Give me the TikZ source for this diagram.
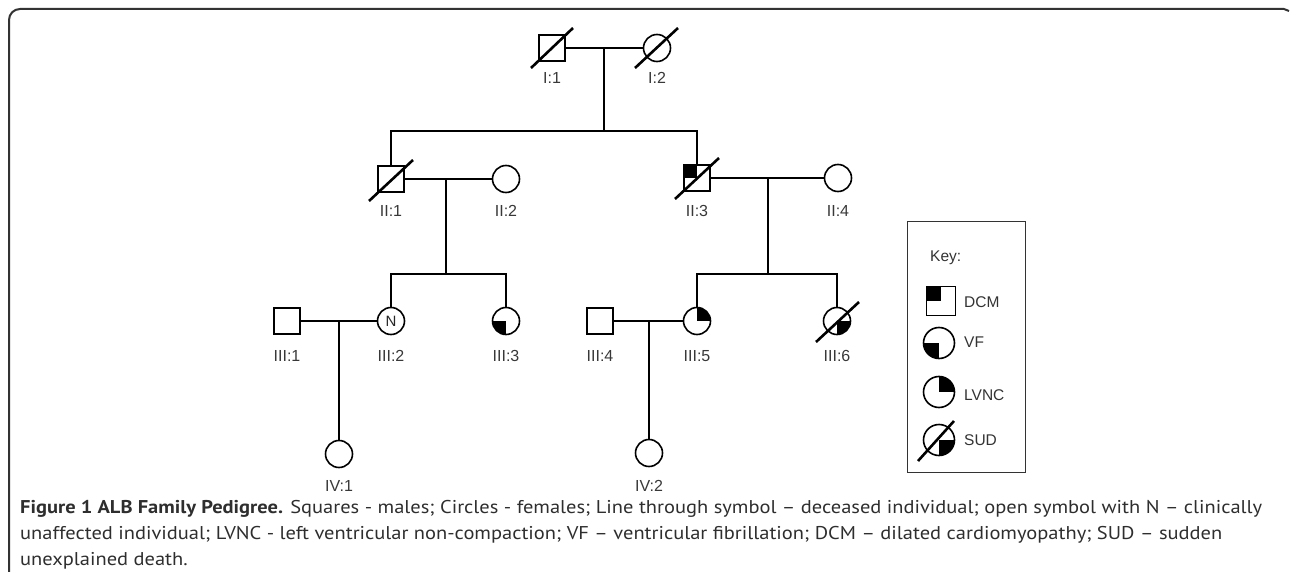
\documentclass[tikz,border=0pt]{standalone}
\usepackage{fontspec}
\setmainfont{Liberation Sans}
\newfontfamily\capfont{PT Sans}
\usepackage{graphicx}
\newcommand\capsize{\fontsize{18.5}{18.5}\selectfont}
\newcommand\capone{\textbf{Figure 1 ALB Family Pedigree.} Squares - males; Circles - females; Line through symbol – deceased individual; open symbol with N – clinically}
\newcommand\captwo{unaffected individual; LVNC - left ventricular non-compaction; VF – ventricular fibrillation; DCM – dilated cardiomyopathy; SUD – sudden}
\newcommand\capthree{unexplained death.}
\newdimen\capw
\newcommand\qcirc[4]{\begin{scope}\clip (#1.center) circle (#2); \fill[black] (#1.center) rectangle ++(#3,#4);\end{scope}}
\begin{document}
\settowidth\capw{\capfont\capsize\capone}
\begin{tikzpicture}[x=1pt,y=-1pt,
  conn/.style={line width=2.4pt, black},
  male/.style={draw, rectangle, line width=1.6pt, minimum size=26pt, inner sep=0pt},
  female/.style={draw, circle, line width=1.6pt, minimum size=27pt, inner sep=0pt},
  keymale/.style={draw, rectangle, line width=1.6pt, minimum size=29pt, inner sep=0pt},
  keyfemale/.style={draw, circle, line width=1.6pt, minimum size=31pt, inner sep=0pt},
  lbl/.style={text=black!78, font=\fontsize{16}{16}\selectfont, inner sep=0pt},
  keytxt/.style={text=black!80, font=\fontsize{15.5}{15.5}\selectfont, inner sep=0pt, anchor=west},
  slash/.style={line width=2.6pt, black},
  frame/.style={line width=2pt, black!80},
  captxt/.style={anchor=base west, inner sep=0pt, text=black!82}
]
\useasboundingbox (0,0) rectangle (1290,572);
\pgfmathsetmacro\capsx{1242pt/\capw}
% frame
\draw[frame, rounded corners=11pt] (9,580) -- (9,9) -- (1284,9);
\draw[frame] (1284,9) -- (1289,11);

% generation I
\node[male] (I1) at (552,48) {};
\node[female] (I2) at (657,48) {};
\node[lbl] (lI1) at (552,78) {I:1};
\node[lbl] (lI2) at (657,78) {I:2};
\coordinate (m1) at (604,48);
\coordinate (s1) at (604,131);

% generation II
\node[male] (II1) at (391,179) {};
\node[female] (II2) at (506,179) {};
\node[male] (II3) at (697,178) {};
\node[female] (II4) at (838,178) {};
\node[lbl] (lII1) at (391,211) {II:1};
\node[lbl] (lII2) at (506,211) {II:2};
\node[lbl] (lII3) at (697,211) {II:3};
\node[lbl] (lII4) at (838,211) {II:4};
\coordinate (m2) at (446,179);
\coordinate (s2) at (446,274);
\coordinate (m3) at (768,178);
\coordinate (s3) at (768,274);

% generation III
\node[male] (III1) at (287,321) {};
\node[female, text=black!85, font=\fontsize{15}{15}\selectfont] (III2) at (391,321) {N};
\node[female] (III3) at (506,321) {};
\node[male] (III4) at (600,321) {};
\node[female] (III5) at (697,321) {};
\node[female] (III6) at (837,321) {};
\node[lbl] (lIII1) at (287,356) {III:1};
\node[lbl] (lIII2) at (391,356) {III:2};
\node[lbl] (lIII3) at (506,356) {III:3};
\node[lbl] (lIII4) at (600,356) {III:4};
\node[lbl] (lIII5) at (697,356) {III:5};
\node[lbl] (lIII6) at (837,356) {III:6};
\coordinate (m4) at (339,321);
\coordinate (m5) at (649,321);

% generation IV
\node[female] (IV1) at (339,454) {};
\node[female] (IV2) at (649,453) {};
\node[lbl] (lIV1) at (339,486) {IV:1};
\node[lbl] (lIV2) at (649,486) {IV:2};

% connectors
\draw[conn] (I1.east) -- (I2.west);
\draw[conn] (m1) -- (s1);
\draw[conn] (II1.north) |- (s1) -| (II3.north);
\draw[conn] (II1.east) -- (II2.west);
\draw[conn] (II3.east) -- (II4.west);
\draw[conn] (m2) -- (s2);
\draw[conn] (m3) -- (s3);
\draw[conn] (III2.north) |- (s2) -| (III3.north);
\draw[conn] (III5.north) |- (s3) -| (III6.north);
\draw[conn] (III1.east) -- (III2.west);
\draw[conn] (III4.east) -- (III5.west);
\draw[conn] (m4) -- (IV1.north);
\draw[conn] (m5) -- (IV2.north);

% affection fills
\fill[black] (II3.north west) rectangle (II3.center);
\qcirc{III3}{13.5pt}{-14}{14}
\qcirc{III5}{13.5pt}{14}{-14}
\qcirc{III6}{13.5pt}{14}{14}

% deceased slashes
\draw[slash] (I1.center) ++(-21,20) -- ++(42,-40);
\draw[slash] (I2.center) ++(-22,20) -- ++(43,-40);
\draw[slash] (II1.center) ++(-22,22) -- ++(44,-41);
\draw[slash] (II3.center) ++(-22,21) -- ++(44,-41);
\draw[slash] (III6.center) ++(-21,21) -- ++(43,-40);

% key
\node[draw, black!80, line width=1pt, minimum width=118pt, minimum height=250pt, inner sep=0pt] (keybox) at (966,347) {};
\node[keytxt] (keyt) at (930,258) {Key:};
\node[keymale] (kDCM) at (941,301) {};
\fill[black] (kDCM.north west) rectangle (kDCM.center);
\node[keytxt] (tDCM) at (964,302) {DCM};
\node[keyfemale] (kVF) at (939,343) {};
\qcirc{kVF}{15.5pt}{-16}{16}
\node[keytxt] (tVF) at (964,342) {VF};
\node[keyfemale] (kLV) at (939,392) {};
\qcirc{kLV}{15.5pt}{16}{-16}
\node[keytxt] (tLV) at (964,395) {LVNC};
\node[keyfemale] (kSUD) at (939,440) {};
\qcirc{kSUD}{15.5pt}{16}{16}
\draw[slash] (kSUD.center) ++(-21,21) -- ++(36,-40);
\node[keytxt] (tSUD) at (964,440) {SUD};

% caption
\node[captxt] (cap1) at (20,513) {\scalebox{\capsx}[1]{\capfont\capsize\capone}};
\node[captxt] (cap2) at (20,539) {\scalebox{\capsx}[1]{\capfont\capsize\captwo}};
\node[captxt] (cap3) at (20,565) {\scalebox{\capsx}[1]{\capfont\capsize\capthree}};
\end{tikzpicture}
\end{document}
